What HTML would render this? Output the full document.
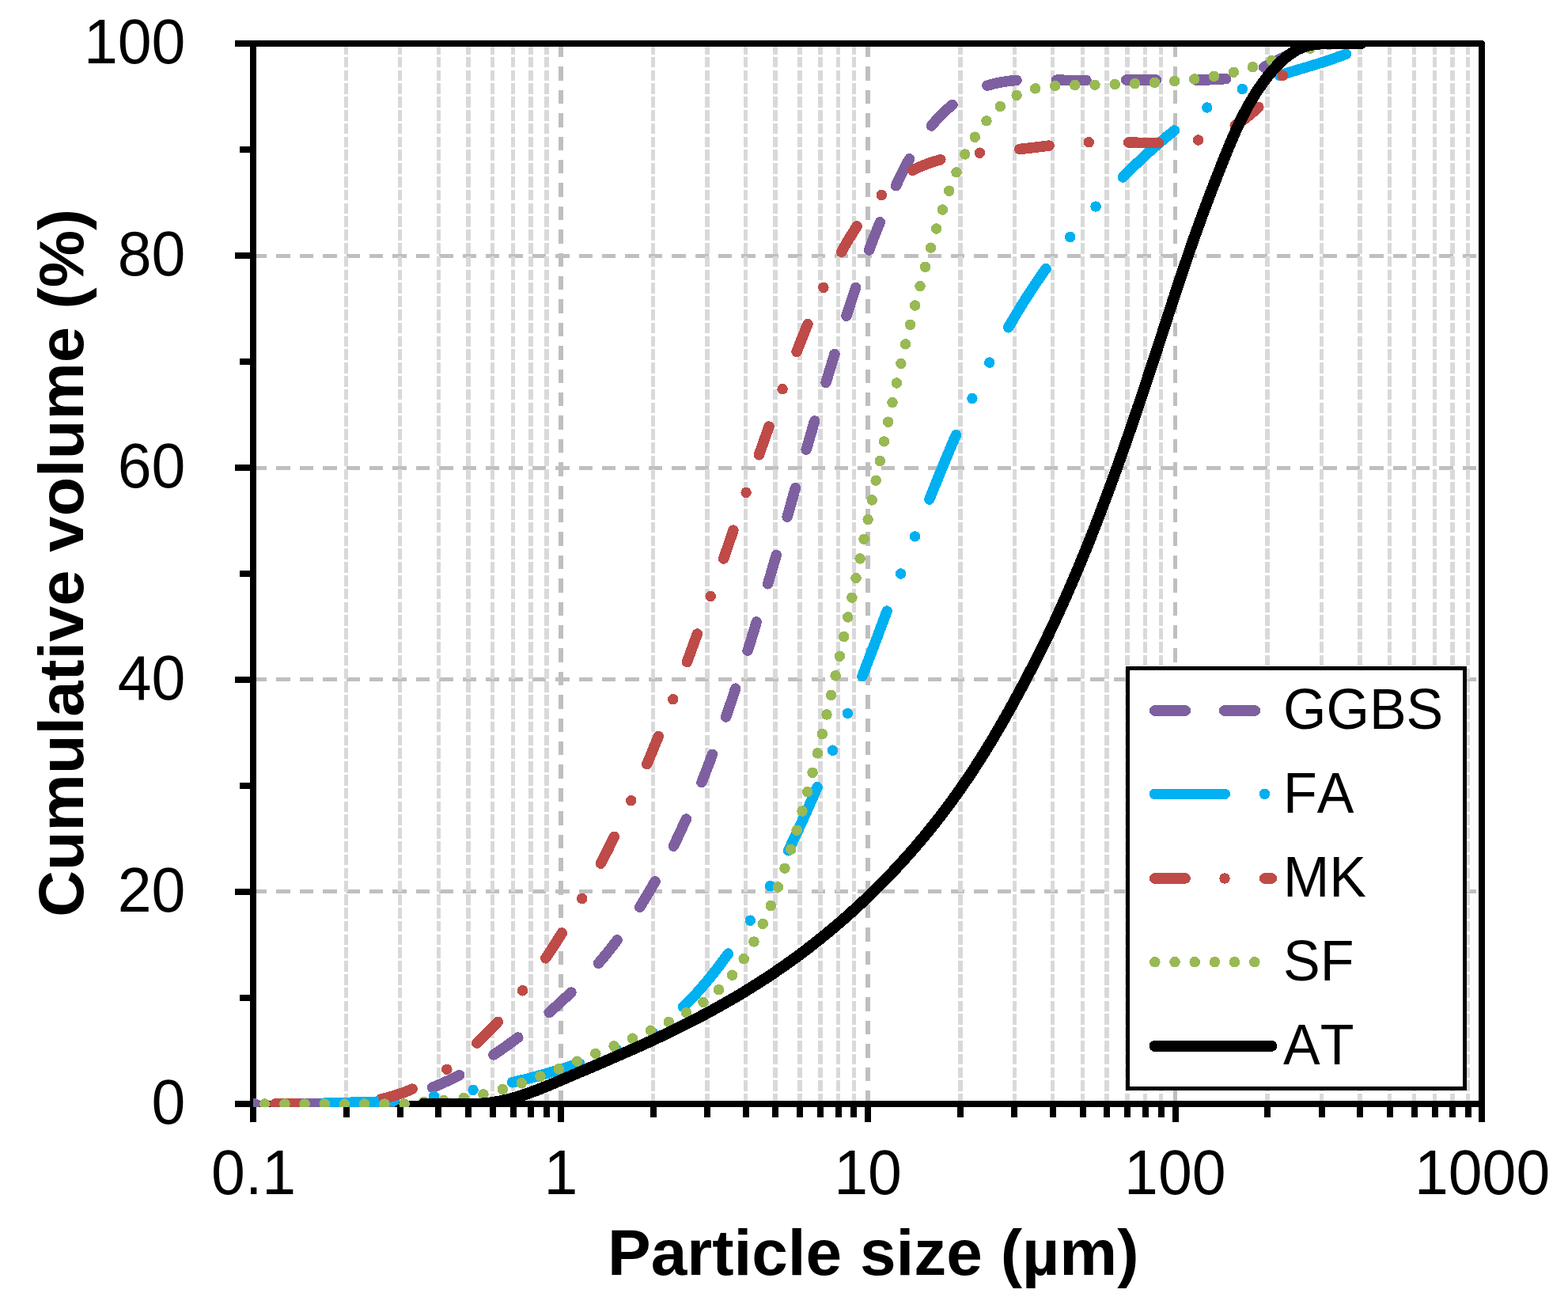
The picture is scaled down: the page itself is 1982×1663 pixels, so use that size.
<!DOCTYPE html>
<html lang="en"><head><meta charset="utf-8"><title>Cumulative volume (%) vs Particle size (µm)</title>
<style>html,body{margin:0;padding:0;background:#fff}svg{display:block}text{font-family:"Liberation Sans",Arial,Helvetica,sans-serif;fill:#000;font-kerning:none;white-space:pre}.tk{font-size:77px}.lg{font-size:70px}.ti{font-size:82.0px;font-weight:bold}.ty{font-size:81.35px}</style></head><body>
<svg width="1982" height="1663" viewBox="0 0 1982 1663" shape-rendering="crispEdges">
<rect width="1982" height="1663" fill="#fff"/>
<defs><clipPath id="pc"><rect x="320" y="51" width="1558" height="1348"/></clipPath></defs>
<g fill="none" stroke="#bfbfbf" stroke-width="4.8" stroke-dasharray="17.4 12">
<path d="M320 1126.5H1873"/>
<path d="M320 858.45H1873"/>
<path d="M320 591.5H1873"/>
<path d="M320 323.55H1873"/>
<path stroke-width="5.4" d="M708.8 55V1395"/>
<path stroke-width="5.4" d="M1097 55V1395"/>
<path stroke-width="5.4" d="M1485.2 55V1395"/>
</g>
<g fill="none" stroke="#d9d9d9" stroke-width="5.4" stroke-dasharray="13.6 3.2">
<path d="M437.4 55V1395"/>
<path d="M505.7 55V1395"/>
<path d="M554.2 55V1395"/>
<path d="M591.9 55V1395"/>
<path d="M622.6 55V1395"/>
<path d="M648.6 55V1395"/>
<path d="M671.1 55V1395"/>
<path d="M691 55V1395"/>
<path d="M825.6 55V1395"/>
<path d="M894 55V1395"/>
<path d="M942.5 55V1395"/>
<path d="M980.1 55V1395"/>
<path d="M1010.9 55V1395"/>
<path d="M1036.9 55V1395"/>
<path d="M1059.4 55V1395"/>
<path d="M1079.2 55V1395"/>
<path d="M1213.9 55V1395"/>
<path d="M1282.2 55V1395"/>
<path d="M1330.7 55V1395"/>
<path d="M1368.4 55V1395"/>
<path d="M1399.1 55V1395"/>
<path d="M1425.1 55V1395"/>
<path d="M1447.6 55V1395"/>
<path d="M1467.5 55V1395"/>
<path d="M1602.1 55V1395"/>
<path d="M1670.5 55V1395"/>
<path d="M1719 55V1395"/>
<path d="M1756.6 55V1395"/>
<path d="M1787.4 55V1395"/>
<path d="M1813.4 55V1395"/>
<path d="M1835.9 55V1395"/>
<path d="M1855.7 55V1395"/>
</g>
<g fill="none" stroke="#000" stroke-width="8">
<path d="M297 55H1873V1418" stroke-linejoin="round"/>
<path d="M320 55V1418"/>
<path d="M297 1395H1873"/>
<path d="M303 1261H320M297 1127H320M303 993H320M297 859H320M303 725H320M297 591H320M303 457H320M297 323H320M303 189H320M437.6 1395V1412M505.9 1395V1412M554.4 1395V1412M592.1 1395V1412M622.8 1395V1412M648.8 1395V1412M671.3 1395V1412M691.2 1395V1412M709 1395V1418M825.8 1395V1412M894.2 1395V1412M942.7 1395V1412M980.3 1395V1412M1011.1 1395V1412M1037.1 1395V1412M1059.6 1395V1412M1079.4 1395V1412M1097.2 1395V1418M1214.1 1395V1412M1282.4 1395V1412M1330.9 1395V1412M1368.6 1395V1412M1399.3 1395V1412M1425.3 1395V1412M1447.8 1395V1412M1467.7 1395V1412M1485.5 1395V1418M1602.3 1395V1412M1670.7 1395V1412M1719.2 1395V1412M1756.8 1395V1412M1787.6 1395V1412M1813.6 1395V1412M1836.1 1395V1412M1855.9 1395V1412"/>
</g>
<g clip-path="url(#pc)" fill="none" stroke-linecap="round" stroke-linejoin="round">
<path stroke="#7e60a0" stroke-width="13.5" d="M300 1395C303.8 1395 310.6 1395 322.6 1395M371.9 1395C386.4 1395 395 1395.4 409.7 1395M460.1 1392.8C474.8 1391.9 308.3 1607.5 497.9 1389.5M546.4 1374.3L552.2 1371.9L558 1369.4L563.7 1366.9L569.4 1364.2L575.1 1361.4L580.7 1358.6M624 1332.9L629.2 1329.3L634.4 1325.8L639.6 1322.2L644.7 1318.5L649.8 1314.8L654.8 1311M694.1 1279.5L698.9 1275.3L703.5 1271.2L708.2 1266.9L712.8 1262.6L717.4 1258.3L722 1254M756.5 1217.3L760.6 1212.5L764.6 1207.7L768.6 1202.8L772.5 1197.9L776.4 1192.9L780.2 1187.9M808.7 1146.3L812 1141L815.3 1135.6L818.6 1130.2L821.7 1124.8L824.9 1119.3L828 1113.9M851.3 1069.2L854.1 1063.6L856.8 1057.9L859.5 1052.1L862.1 1046.5L864.7 1040.7L867.3 1035M886.9 988.6L889.2 982.7L891.5 976.8L893.8 971L896.1 965.1L898.3 959.2L900.5 953.3M917.6 906L919.7 900L921.7 894L923.8 888.1L925.8 882.1L927.8 876.1L929.7 870.2M945.1 822.2L947 816.2L948.9 810.1L950.7 804.1L952.6 798.1L954.4 792.1L956.2 786M970.6 737.8L972.4 731.7L974.2 725.7L976 719.7L977.7 713.6L979.5 707.6L981.3 701.5M995.2 653.1L996.9 647L998.6 641L1000.3 634.9L1002 628.8L1003.7 622.7L1005.4 616.7M1019.2 568.2L1021 562.2L1022.7 556.2L1024.4 550.1L1026.2 544.1L1027.9 538L1029.7 532M1044 483.6L1045.8 477.6L1047.6 471.6L1049.5 465.6L1051.3 459.5L1053.1 453.5L1054.9 447.5M1069.9 399.3L1071.8 393.4L1073.8 387.4L1075.7 381.4L1077.7 375.4L1079.7 369.4L1081.7 363.5M1098.6 316L1100.8 310.1L1103 304.2L1105.3 298.3L1107.6 292.5L1110 286.6L1112.3 280.8M1132.5 234.7L1135.2 229L1137.9 223.3L1140.7 217.6L1143.6 212L1146.5 206.5L1149.5 200.9M1177.3 159L1181.4 154.2L1185.6 149.5L1190 145L1194.5 140.6L1199.2 136.4L1204 132.4M1247.9 108.2L1254 106.4L1260.1 104.9L1266.3 103.7L1272.5 102.7L1278.7 102L1285 101.4M1335.4 101.2L1341.7 101.2L1348 101.3L1354.2 101.3L1360.5 101.4L1366.8 101.4L1373.1 101.4M1423.5 101L1429.8 100.9L1436.1 100.9L1442.4 100.9L1448.7 100.9L1455 100.9L1461.3 100.9M1511.7 101.1L1518 101L1524.3 100.9L1530.6 100.7L1536.9 100.4L1543.2 100L1549.5 99.6M1597.6 85L1631.6 68"/>
<path stroke="#00b0f0" stroke-width="13.5" d="M409.8 1394.2C424.5 1393.7 474.9 1392.7 498 1391.2M548.5 1385.2h0M598.1 1377.4h0M647.5 1367.8L653.6 1366.4L659.8 1364.9L665.9 1363.4L672 1361.8L678 1360.2L684.1 1358.5L690.2 1356.8L696.2 1355L702.2 1353.2L708.3 1351.4L714.3 1349.5L720.3 1347.6L726.3 1345.7L732.3 1343.8M779.7 1326.8h0M824.4 1303.9h0M863.6 1272.3L868.1 1267.9L872.5 1263.4L876.9 1258.9L881.2 1254.3L885.4 1249.6L889.5 1244.9L893.6 1240L897.6 1235.2L901.5 1230.3L905.4 1225.3L909.3 1220.4L913 1215.3L916.8 1210.2L920.4 1205.1M948.3 1163.2h0M973.5 1119.6h0M996.5 1074.8L999.3 1069.1L1002 1063.4L1004.7 1057.8L1007.3 1052.1L1010 1046.4L1012.6 1040.6L1015.3 1034.9L1017.9 1029.2L1020.4 1023.4L1023 1017.7L1025.5 1011.9L1028.1 1006.1L1030.6 1000.4L1033.1 994.6M1052.6 948.2h0M1071.5 901.5h0M1089.9 854.6L1092.2 848.8L1094.4 842.9L1096.7 837L1098.9 831.1L1101.2 825.2L1103.4 819.3L1105.6 813.5L1107.9 807.6L1110.1 801.7L1112.3 795.8L1114.5 789.9L1116.7 784L1118.9 778.1L1121.1 772.2M1138.7 725h0M1156.5 677.9h0M1174.8 631L1177.2 625.1L1179.5 619.3L1181.9 613.4L1184.2 607.6L1186.6 601.8L1189 596L1191.4 590.1L1193.8 584.4L1196.2 578.5L1198.7 572.7L1201.1 566.9L1203.6 561.1L1206 555.3L1208.5 549.6M1228.9 503.5h0M1250.8 458.1h0M1274.7 413.8L1277.8 408.3L1281 402.9L1284.2 397.5L1287.5 392.1L1290.8 386.8L1294.1 381.4L1297.5 376.1L1300.9 370.8L1304.3 365.5L1307.8 360.3L1311.3 355.1L1314.9 349.9L1318.5 344.7L1322.1 339.6M1352.6 299.5h0M1385.1 261h0M1419.3 224L1423.7 219.5L1428.1 215.1L1432.6 210.7L1437.2 206.3L1441.7 202L1446.3 197.6L1451 193.4L1455.6 189.2L1460.4 185L1465.1 180.9L1469.9 176.8L1474.7 172.8L1479.6 168.9L1484.6 164.9M1525.8 136h0M1570.3 112.5h0M1617.6 95.3L1623.6 93.4L1629.6 91.5L1635.6 89.7L1641.6 87.9L1647.7 86.1L1653.7 84.3L1659.8 82.4L1665.7 80.6L1671.7 78.7L1677.8 76.7L1683.7 74.7L1689.7 72.6L1695.6 70.5L1701.5 68.3"/>
<path stroke="#00b0f0" stroke-width="13.5" stroke-linecap="butt" d="M409 1394.2H417"/>
<path stroke="#be4b48" stroke-width="13.5" d="M347.6 1395C352.6 1395 362.9 1395 377.5 1395M435.5 1395h0M485.3 1388.1L491.4 1386.5L497.5 1384.8L503.5 1382.9L509.4 1380.9L515.3 1378.6L521.1 1376.2M564.8 1351.3h0M602.8 1318.2L607.4 1313.9L611.9 1309.5L616.3 1305L620.7 1300.5L625.1 1296L629.3 1291.3M660.6 1251.8h0M689.8 1210.8L693.3 1205.6L696.8 1200.3L700.2 1195L703.6 1189.7L706.9 1184.4L710.3 1179M735.7 1135.6h0M759.5 1091.1L762.4 1085.5L765.2 1079.9L768.1 1074.3L770.9 1068.6L773.6 1063L776.4 1057.3M797.7 1011.7h0M817.8 965.5L820.3 959.7L822.7 953.9L825.1 948.1L827.5 942.2L829.9 936.4L832.3 930.6M850.7 883.7h0M868.5 836.5L870.6 830.6L872.8 824.7L874.9 818.8L877.1 812.9L879.2 806.9L881.4 801M898.2 753.5h0M914.7 705.9L916.7 700L918.8 694L920.8 688L922.8 682.1L924.9 676.1L926.9 670.2M943.1 622.4h0M959.5 574.8L961.5 568.9L963.6 562.9L965.7 557L967.8 551L969.9 545L972 539.1M989.1 491.7h0M1007 444.7L1009.3 438.8L1011.6 432.9L1013.9 427L1016.3 421.2L1018.6 415.4L1021 409.6M1040.9 363.3h0M1063.6 318.3L1066.7 312.8L1069.8 307.4L1073.1 301.9L1076.4 296.6L1079.8 291.3L1083.2 286M1114.3 246.4h0M1153.7 215.3L1159.3 212.4L1165 209.9L1170.8 207.5L1176.7 205.4L1182.8 203.5L1188.8 201.8M1238.4 193.2h0M1288.6 188.5L1294.9 187.8L1301.1 187.1L1307.4 186.4L1313.6 185.6L1319.9 184.9L1326.1 184.1M1376.3 179.7h0M1426.7 180L1433 180.1L1439.3 180.3L1445.6 180.4L1451.9 180.5L1458.2 180.6L1464.5 180.6M1514.6 177h0M1561.2 158.4L1566.5 155.1L1571.7 151.5L1576.7 147.7L1581.6 143.7L1586.3 139.6L1590.9 135.3M1621.3 95.5h0"/>
<path stroke="#be4b48" stroke-width="13.5" stroke-linecap="butt" d="M479.2 1390L488 1387.2"/>
<path stroke="#98b954" stroke-width="13.5" d="M334.7 1395h0M359.9 1395h0M385.1 1395h0M410.3 1395h0M435.5 1395h0M460.7 1395h0M485.9 1395h0M511.1 1395h0M535.8 1392.5h0M561 1390.6h0M586.2 1387.6h0M610.9 1382.9h0M635.3 1376.5h0M659.3 1368.8h0M682.9 1360.1h0M706.3 1350.8h0M729.6 1341.1h0M752.8 1331.4h0M776.1 1321.9h0M799.4 1312.2h0M822.5 1302.2h0M845.3 1291.5h0M867.5 1279.6h0M888.9 1266.4h0M908.6 1250.7h0M925.6 1232.2h0M940.2 1211.7h0M952.9 1190h0M964.2 1167.4h0M974.3 1144.4h0M983.5 1121h0M992 1097.2h0M999.7 1073.3h0M1007.1 1049.2h0M1014 1025h0M1020.7 1000.7h0M1027.1 976.3h0M1033.3 951.9h0M1039.3 927.4h0M1045 902.9h0M1050.6 878.4h0M1056.1 853.8h0M1061.4 829.2h0M1066.6 804.5h0M1071.8 779.9h0M1076.9 755.2h0M1082 730.5h0M1087.1 705.9h0M1092.1 681.2h0M1097.1 656.5h0M1102.2 631.9h0M1107.2 607.2h0M1112.3 582.5h0M1117.5 557.9h0M1122.7 533.2h0M1128 508.6h0M1133.4 484h0M1138.9 459.4h0M1144.6 434.9h0M1150.5 410.4h0M1156.6 386h0M1163 361.6h0M1169.6 337.3h0M1176.5 313.1h0M1183.7 289h0M1191.3 265h0M1199.7 241.2h0M1209 217.8h0M1219.8 195h0M1232.3 173.2h0M1247 152.8h0M1264.3 134.6h0M1285.1 120.4h0M1308.7 111.9h0M1333.7 108.4h0M1358.8 107.6h0M1384 107.2h0M1409.2 106.6h0M1434.4 105.7h0M1459.5 104.4h0M1484.6 102.5h0M1509.7 99.9h0M1534.6 96.3h0M1559.3 91.3h0M1583.6 84.7h0M1607.2 76.4h0M1630.6 68.7h0M1656 61.1h0M1680 56.5h0M1705 55.2h0"/>
<path stroke="#000" stroke-width="14.4" d="M535.5 1395C537.5 1395 543.5 1394.9 547.5 1394.9C551.5 1394.9 555.5 1394.9 559.5 1394.9C563.5 1395 567.5 1395 571.5 1395C575.5 1395 579.6 1395.1 583.6 1395.1C587.6 1395.1 591.6 1395.2 595.5 1395.2C599.5 1395.1 603.5 1395.1 607.5 1394.8C611.4 1394.6 615.4 1394.2 619.3 1393.7C623.3 1393.2 627.2 1392.5 631.1 1391.8C635 1391 638.8 1390.1 642.7 1389.2C646.5 1388.2 650.4 1387.1 654.2 1386C658 1384.8 661.8 1383.6 665.6 1382.3C669.3 1381 673.1 1379.6 676.9 1378.2C680.6 1376.8 684.4 1375.3 688.1 1373.8C691.8 1372.3 695.6 1370.7 699.3 1369.2C703 1367.6 706.7 1366 710.4 1364.4C714.1 1362.8 717.8 1361.2 721.5 1359.7C725.2 1358.1 728.9 1356.5 732.6 1354.9C736.3 1353.3 740 1351.8 743.7 1350.2C747.4 1348.6 751.1 1347 754.8 1345.4C758.5 1343.9 762.2 1342.3 765.9 1340.7C769.5 1339.1 773.2 1337.5 776.9 1335.9C780.6 1334.3 784.2 1332.8 787.9 1331.1C791.5 1329.5 795.2 1327.9 798.8 1326.3C802.5 1324.7 806.1 1323.1 809.8 1321.4C813.4 1319.8 817.1 1318.1 820.7 1316.5C824.3 1314.8 827.9 1313.1 831.5 1311.4C835.2 1309.7 838.8 1308 842.4 1306.3C846 1304.6 849.5 1302.8 853.1 1301.1C856.7 1299.3 860.3 1297.5 863.8 1295.8C867.4 1294 871 1292.2 874.5 1290.3C878.1 1288.5 881.6 1286.7 885.1 1284.8C888.7 1282.9 892.2 1281.1 895.7 1279.2C899.2 1277.3 902.7 1275.4 906.2 1273.4C909.7 1271.5 913.1 1269.5 916.6 1267.6C920.1 1265.6 923.5 1263.6 927 1261.6C930.4 1259.6 933.9 1257.5 937.3 1255.5C940.7 1253.4 944.1 1251.3 947.5 1249.2C950.9 1247.1 954.3 1245 957.6 1242.9C961 1240.7 964.4 1238.6 967.7 1236.4C971.1 1234.2 974.4 1232 977.7 1229.8C981 1227.5 984.3 1225.3 987.6 1223C990.9 1220.7 994.2 1218.4 997.4 1216.1C1000.7 1213.8 1003.9 1211.4 1007.1 1209.1C1010.4 1206.7 1013.6 1204.3 1016.8 1201.9C1020 1199.5 1023.1 1197 1026.3 1194.6C1029.5 1192.1 1032.6 1189.6 1035.8 1187.1C1038.9 1184.6 1042 1182.1 1045.1 1179.5C1048.2 1177 1051.3 1174.4 1054.3 1171.8C1057.4 1169.3 1060.5 1166.6 1063.5 1164C1066.5 1161.4 1069.5 1158.7 1072.5 1156.1C1075.5 1153.4 1078.5 1150.7 1081.5 1148C1084.4 1145.3 1087.4 1142.5 1090.3 1139.8C1093.2 1137 1096.1 1134.3 1099 1131.5C1101.9 1128.7 1104.8 1125.9 1107.6 1123.1C1110.5 1120.2 1113.3 1117.4 1116.1 1114.5C1119 1111.7 1121.8 1108.8 1124.5 1105.9C1127.3 1103 1130.1 1100.1 1132.8 1097.1C1135.5 1094.2 1138.3 1091.3 1141 1088.3C1143.7 1085.3 1146.3 1082.3 1149 1079.3C1151.7 1076.3 1154.3 1073.3 1156.9 1070.3C1159.5 1067.2 1162.1 1064.2 1164.7 1061.1C1167.3 1058.1 1169.8 1055 1172.4 1051.9C1174.9 1048.8 1177.4 1045.7 1179.9 1042.5C1182.4 1039.4 1184.9 1036.3 1187.3 1033.1C1189.8 1029.9 1192.2 1026.8 1194.6 1023.6C1197 1020.4 1199.4 1017.2 1201.8 1014C1204.1 1010.8 1206.5 1007.5 1208.8 1004.3C1211.1 1001.1 1213.4 997.8 1215.7 994.5C1218 991.3 1220.2 988 1222.4 984.7C1224.7 981.4 1226.9 978.1 1229.1 974.8C1231.3 971.4 1233.4 968.1 1235.6 964.8C1237.7 961.4 1239.9 958.1 1242 954.7C1244.1 951.3 1246.2 948 1248.2 944.6C1250.3 941.2 1252.4 937.8 1254.4 934.4C1256.5 931 1258.5 927.5 1260.5 924.1C1262.5 920.7 1264.5 917.2 1266.5 913.8C1268.5 910.3 1270.5 906.9 1272.4 903.4C1274.4 899.9 1276.3 896.4 1278.3 892.9C1280.2 889.4 1282.1 885.9 1284 882.4C1285.9 878.9 1287.8 875.4 1289.7 871.9C1291.6 868.4 1293.5 864.8 1295.4 861.3C1297.2 857.7 1299.1 854.2 1300.9 850.6C1302.8 847.1 1304.6 843.5 1306.5 839.9C1308.3 836.4 1310.1 832.8 1311.9 829.2C1313.7 825.6 1315.5 822 1317.3 818.4C1319 814.8 1320.8 811.2 1322.6 807.6C1324.3 804 1326 800.4 1327.8 796.7C1329.5 793.1 1331.2 789.5 1332.9 785.9C1334.6 782.2 1336.3 778.6 1337.9 774.9C1339.6 771.3 1341.3 767.6 1342.9 764C1344.6 760.3 1346.2 756.7 1347.8 753C1349.4 749.3 1351 745.7 1352.6 742C1354.2 738.3 1355.8 734.6 1357.4 730.9C1359 727.3 1360.5 723.6 1362.1 719.9C1363.6 716.2 1365.2 712.5 1366.7 708.8C1368.2 705.1 1369.8 701.4 1371.3 697.7C1372.8 694 1374.3 690.3 1375.8 686.5C1377.3 682.8 1378.7 679.1 1380.2 675.4C1381.7 671.7 1383.1 667.9 1384.6 664.2C1386 660.5 1387.5 656.7 1388.9 653C1390.3 649.3 1391.8 645.5 1393.2 641.8C1394.6 638 1396 634.3 1397.4 630.6C1398.8 626.8 1400.2 623.1 1401.6 619.3C1403 615.6 1404.4 611.8 1405.7 608C1407.1 604.3 1408.5 600.5 1409.8 596.8C1411.2 593 1412.5 589.3 1413.9 585.5C1415.2 581.7 1416.5 578 1417.9 574.2C1419.2 570.4 1420.5 566.7 1421.8 562.9C1423.1 559.1 1424.5 555.3 1425.8 551.6C1427.1 547.8 1428.4 544 1429.7 540.3C1431 536.5 1432.3 532.7 1433.5 528.9C1434.8 525.2 1436.1 521.4 1437.4 517.6C1438.7 513.8 1439.9 510 1441.2 506.3C1442.5 502.5 1443.7 498.7 1445 494.9C1446.3 491.1 1447.5 487.4 1448.8 483.6C1450 479.8 1451.3 476 1452.5 472.2C1453.8 468.4 1455 464.6 1456.3 460.9C1457.5 457.1 1458.8 453.3 1460 449.5C1461.2 445.7 1462.5 441.9 1463.7 438.1C1465 434.3 1466.2 430.5 1467.4 426.7C1468.7 422.9 1469.9 419.2 1471.1 415.4C1472.3 411.6 1473.6 407.8 1474.8 404C1476 400.2 1477.3 396.4 1478.5 392.6C1479.7 388.8 1481 385 1482.2 381.2C1483.5 377.4 1484.7 373.6 1486 369.8C1487.2 366 1488.5 362.2 1489.7 358.4C1491 354.6 1492.3 350.7 1493.5 346.9C1494.8 343.1 1496.1 339.3 1497.4 335.5C1498.7 331.7 1500 327.9 1501.3 324.1C1502.6 320.3 1503.9 316.5 1505.2 312.7C1506.6 308.9 1507.9 305 1509.2 301.2C1510.6 297.4 1511.9 293.6 1513.3 289.8C1514.7 286 1516.1 282.2 1517.4 278.4C1518.8 274.6 1520.2 270.8 1521.6 267C1523 263.3 1524.4 259.5 1525.8 255.7C1527.2 251.9 1528.7 248.2 1530.1 244.4C1531.5 240.7 1532.9 236.9 1534.4 233.2C1535.8 229.4 1537.3 225.7 1538.7 222C1540.2 218.3 1541.6 214.6 1543.1 210.9C1544.6 207.2 1546 203.5 1547.5 199.8C1549 196.1 1550.5 192.5 1552 188.8C1553.5 185.2 1555 181.6 1556.5 178C1558.1 174.4 1559.6 170.8 1561.2 167.2C1562.8 163.6 1564.4 160 1566.1 156.5C1567.8 153 1569.5 149.4 1571.3 145.9C1573.1 142.4 1574.9 138.9 1576.8 135.5C1578.7 132 1580.7 128.6 1582.8 125.2C1584.8 121.8 1586.9 118.4 1589.1 115C1591.4 111.6 1593.7 108.3 1596.1 104.9C1598.5 101.6 1601 98.3 1603.6 95.1C1606.2 91.8 1608.9 88.6 1611.7 85.6C1614.5 82.5 1617.4 79.5 1620.4 76.7C1623.4 74 1626.6 71.4 1629.8 69C1633.1 66.7 1636.4 64.5 1639.9 62.7C1643.3 60.9 1646.9 59.4 1650.6 58.3C1654.2 57.1 1658 56.4 1661.8 55.9C1665.6 55.4 1669.5 55.2 1673.4 55.1C1677.4 54.9 1681.4 55 1685.4 55C1689.4 55 1693.4 55.1 1697.5 55.1C1701.5 55.1 1705.8 55.1 1709.6 55.1C1713.3 55.1 1718.3 55 1720.1 55"/>
</g>
<rect x="1425.5" y="844.5" width="426" height="531" fill="#fff" stroke="#000" stroke-width="5"/>
<g fill="none" stroke-linecap="round">
<path stroke="#7e60a0" stroke-width="13.5" d="M1459.7 898H1498.3M1547.5 898H1586.3"/>
<path stroke="#00b0f0" stroke-width="13.5" d="M1459.5 1003.4H1548.2M1598.5 1003.4h0"/>
<path stroke="#be4b48" stroke-width="13.5" d="M1459.5 1110H1498.2M1548 1110h0M1598.5 1110H1607.3"/>
<path stroke="#98b954" stroke-width="13.5" d="M1459.8 1215.7h0M1485.0 1215.7h0M1510.2 1215.7h0M1535.4 1215.7h0M1560.6 1215.7h0M1585.8 1215.7h0"/>
<path stroke="#000" stroke-width="14" d="M1459.5 1321.9H1607.4"/>
</g>
<text class="lg" transform="translate(1622 921) scale(1 1.04)">GGBS</text>
<text class="lg" transform="translate(1622 1027) scale(1 1.04)">FA</text>
<text class="lg" transform="translate(1622 1133) scale(1 1.04)">MK</text>
<text class="lg" transform="translate(1622 1239) scale(1 1.04)">SF</text>
<text class="lg" transform="translate(1622 1344.8) scale(1 1.04)">AT</text>
<text class="tk" text-anchor="end" transform="translate(234.4 1419.8) scale(1 1.04)">0</text>
<text class="tk" text-anchor="end" transform="translate(234.4 1151.8) scale(1 1.04)">20</text>
<text class="tk" text-anchor="end" transform="translate(234.4 883.8) scale(1 1.04)">40</text>
<text class="tk" text-anchor="end" transform="translate(234.4 615.8) scale(1 1.04)">60</text>
<text class="tk" text-anchor="end" transform="translate(234.4 347.8) scale(1 1.04)">80</text>
<text class="tk" text-anchor="end" transform="translate(234.4 79.8) scale(1 1.04)">100</text>
<text class="tk" text-anchor="middle" transform="translate(320.6 1509) scale(1 1.04)">0.1</text>
<text class="tk" text-anchor="middle" transform="translate(708.9 1509) scale(1 1.04)">1</text>
<text class="tk" text-anchor="middle" transform="translate(1097.1 1509) scale(1 1.04)">10</text>
<text class="tk" text-anchor="middle" transform="translate(1485.3 1509) scale(1 1.04)">100</text>
<text class="tk" text-anchor="middle" transform="translate(1873.6 1509) scale(1 1.04)">1000</text>
<text class="ti" text-anchor="middle" transform="translate(1103.7 1610.8) scale(1 0.99)">Particle size (µm)</text>
<text class="ti ty" text-anchor="middle" transform="translate(104.7 711.4) rotate(-90) scale(1 0.99)">Cumulative volume (%)</text>
</svg></body></html>
